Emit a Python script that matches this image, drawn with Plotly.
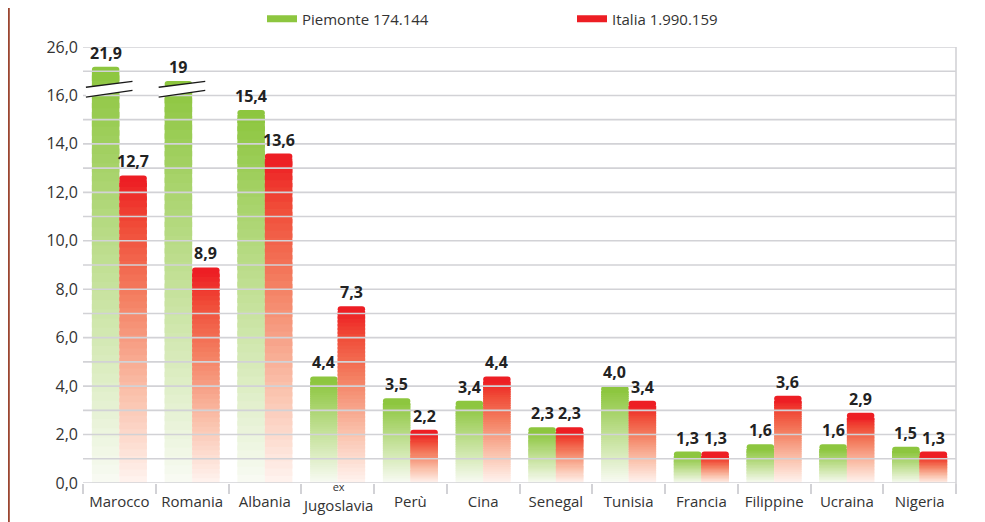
import plotly.graph_objects as go

# ---------------- data ----------------
categories = ["Marocco", "Romania", "Albania", "ex Jugoslavia", "Perù", "Cina",
              "Senegal", "Tunisia", "Francia", "Filippine", "Ucraina", "Nigeria"]
piemonte = [21.9, 19.0, 15.4, 4.4, 3.5, 3.4, 2.3, 4.0, 1.3, 1.6, 1.6, 1.5]
italia = [12.7, 8.9, 13.6, 7.3, 2.2, 4.4, 2.3, 3.4, 1.3, 3.6, 2.9, 1.3]
piemonte_labels = ["21,9", "19", "15,4", "4,4", "3,5", "3,4", "2,3", "4,0", "1,3", "1,6", "1,6", "1,5"]
italia_labels = ["12,7", "8,9", "13,6", "7,3", "2,2", "4,4", "2,3", "3,4", "1,3", "3,6", "2,9", "1,3"]
series_names = ["Piemonte 174.144", "Italia 1.990.159"]

y_tick_values = [0, 2, 4, 6, 8, 10, 12, 14, 16, 26]
y_tick_text = ["0,0", "2,0", "4,0", "6,0", "8,0", "10,0", "12,0", "14,0", "16,0", "26,0"]

BREAK_LOW = 16     # axis is broken between 16 and 26
BREAK_HIGH = 26

# ---------------- styling / geometry ----------------
# the page body has an 8px margin, so the figure is 8px smaller than the window
W, H = 977, 514
ML, MR, MT, MB = 75, 29, 39, 39
PW, PH = W - ML - MR, H - MT - MB
BARGAP = 0.244
GRID = "#d2d2d6"
TXT = "#333333"
FONT = "Open Sans"

GREEN_STOPS = [(0.0, (249, 251, 244)), (0.5, (196, 225, 153)), (1.0, (141, 198, 63))]
RED_STOPS = [(0.0, (255, 244, 240)), (0.3, (250, 192, 170)), (0.6, (244, 130, 100)),
             (0.85, (240, 76, 56)), (1.0, (237, 30, 36))]


def grad(stops, t):
    for (t0, c0), (t1, c1) in zip(stops[:-1], stops[1:]):
        if t <= t1:
            f = (t - t0) / (t1 - t0)
            c = [round(a + (b - a) * f) for a, b in zip(c0, c1)]
            return "rgb(%d,%d,%d)" % tuple(c)
    return "rgb(%d,%d,%d)" % stops[-1][1]


# display scale: linear up to the break, then 16..26 squeezed into 16..18
def disp(v):
    if v <= BREAK_LOW:
        return v
    return BREAK_LOW + (v - BREAK_LOW) * 2.0 / (BREAK_HIGH - BREAK_LOW)


fig = go.Figure()

N = 45
CAP = 0.2
for name, vals, stops, group in [(series_names[0], piemonte, GREEN_STOPS, "p"),
                                 (series_names[1], italia, RED_STOPS, "i")]:
    d = [disp(v) for v in vals]
    for k in range(N):
        seg = [(x - CAP) / N for x in d]
        base = [k * s for s in seg]
        h = [s * (1.6 if k < N - 1 else 1.0) for s in seg]
        col = grad(stops, (k + 0.5) / N)
        fig.add_trace(go.Bar(x=categories, y=h, base=base, offsetgroup=group,
                             marker=dict(color=col, line=dict(width=0)),
                             showlegend=False, hoverinfo="skip"))
    # saturated rounded cap on top
    fig.add_trace(go.Bar(x=categories, y=[CAP + 0.05] * len(d), base=[x - CAP - 0.05 for x in d],
                         offsetgroup=group,
                         marker=dict(color=grad(stops, 1.0), line=dict(width=0), cornerradius=4),
                         showlegend=False, hoverinfo="skip"))
    # legend entry
    fig.add_trace(go.Scatter(x=[None], y=[None], mode="lines", name=name,
                             line=dict(color=grad(stops, 1.0), width=7)))

# ---------------- shapes ----------------
shapes = []
# gridlines above the bars
for v in range(0, 19):
    shapes.append(dict(type="line", xref="paper", yref="y", x0=0, x1=1, y0=v, y1=v,
                       line=dict(color=GRID, width=1.6), layer="above"))
# right frame line
shapes.append(dict(type="line", xref="paper", yref="paper", x0=1, x1=1, y0=-10 / PH, y1=1,
                   line=dict(color=GRID, width=1.6), layer="above"))
# brown line at the left edge of the page
shapes.append(dict(type="line", xref="paper", yref="paper", x0=(0.6 - ML) / PW, x1=(0.6 - ML) / PW,
                   y0=-MB / PH - 0.01, y1=1 + MT / PH + 0.01,
                   line=dict(color="#9b4630", width=2.4), layer="above"))

# break marks on the broken bars
for i, v in enumerate(piemonte):
    if v > BREAK_LOW:
        xl, xr = i - 0.46, i + 0.18
        up_l, up_r = BREAK_LOW + 0.34, BREAK_LOW + 0.58
        lo_l, lo_r = BREAK_LOW - 0.07, BREAK_LOW + 0.21
        shapes.append(dict(type="path", xref="x", yref="y",
                           path=f"M{xl},{lo_l} L{xr},{lo_r} L{xr},{up_r} L{xl},{up_l} Z",
                           fillcolor="white", line=dict(width=0), layer="above"))
        shapes.append(dict(type="line", xref="x", yref="y", x0=xl, x1=xr, y0=up_l, y1=up_r,
                           line=dict(color="#1a1a1a", width=1.4), layer="above"))
        shapes.append(dict(type="line", xref="x", yref="y", x0=xl, x1=xr, y0=lo_l, y1=lo_r,
                           line=dict(color="#1a1a1a", width=1.4), layer="above"))

# ---------------- value labels ----------------
cat_w = PW / len(categories)
bar_w = cat_w * (1 - BARGAP) / 2
annotations = []
for vals, labs, sh in [(piemonte, piemonte_labels, -bar_w / 2), (italia, italia_labels, bar_w / 2)]:
    for c, v, lab in zip(categories, vals, labs):
        annotations.append(dict(x=c, y=disp(v), xref="x", yref="y", text="<b>" + lab + "</b>",
                                showarrow=False, yanchor="bottom", xshift=sh, yshift=1,
                                font=dict(family=FONT, size=16, color="#222222")))

# two-line label "ex / Jugoslavia" (small "ex" above the name)
ticktext = []
for c in categories:
    if c.startswith("ex "):
        ticktext.append("")
        annotations.append(dict(x=c, y=0, xref="x", yref="paper",
                                text="<span style='font-size:11px'>ex</span><br>" + c[3:],
                                showarrow=False, yanchor="top", yshift=6, align="center",
                                font=dict(family=FONT, size=15, color=TXT)))
    else:
        ticktext.append(c)

fig.update_layout(
    width=W, height=H,
    margin=dict(l=ML, r=MR, t=MT, b=MB, autoexpand=False),
    paper_bgcolor="white", plot_bgcolor="white",
    barmode="group", bargap=BARGAP, bargroupgap=0,
    font=dict(family=FONT, size=15, color=TXT),
    shapes=shapes, annotations=annotations,
    legend=dict(orientation="h", x=(254 - ML) / PW, xanchor="left",
                y=1 + (MT - 11) / PH, yanchor="middle",
                entrywidth=265, entrywidthmode="pixels",
                font=dict(family=FONT, size=15, color=TXT), bgcolor="rgba(0,0,0,0)"),
    showlegend=True,
)
fig.update_xaxes(type="category", tickvals=categories, ticktext=ticktext,
                 tickson="boundaries", ticks="outside", ticklen=10, tickwidth=1.6, tickcolor=GRID,
                 tickangle=0, automargin=False, ticklabelstandoff=8,
                 showgrid=False, showline=False, zeroline=False,
                 tickfont=dict(family=FONT, size=15, color=TXT))
fig.update_yaxes(range=[0, 18], tickvals=[disp(v) for v in y_tick_values], ticktext=y_tick_text,
                 showgrid=False, zeroline=False, showline=False, ticks="",
                 ticklabelstandoff=4, automargin=False,
                 tickfont=dict(family=FONT, size=16, color=TXT))

fig.write_html("out.html")
